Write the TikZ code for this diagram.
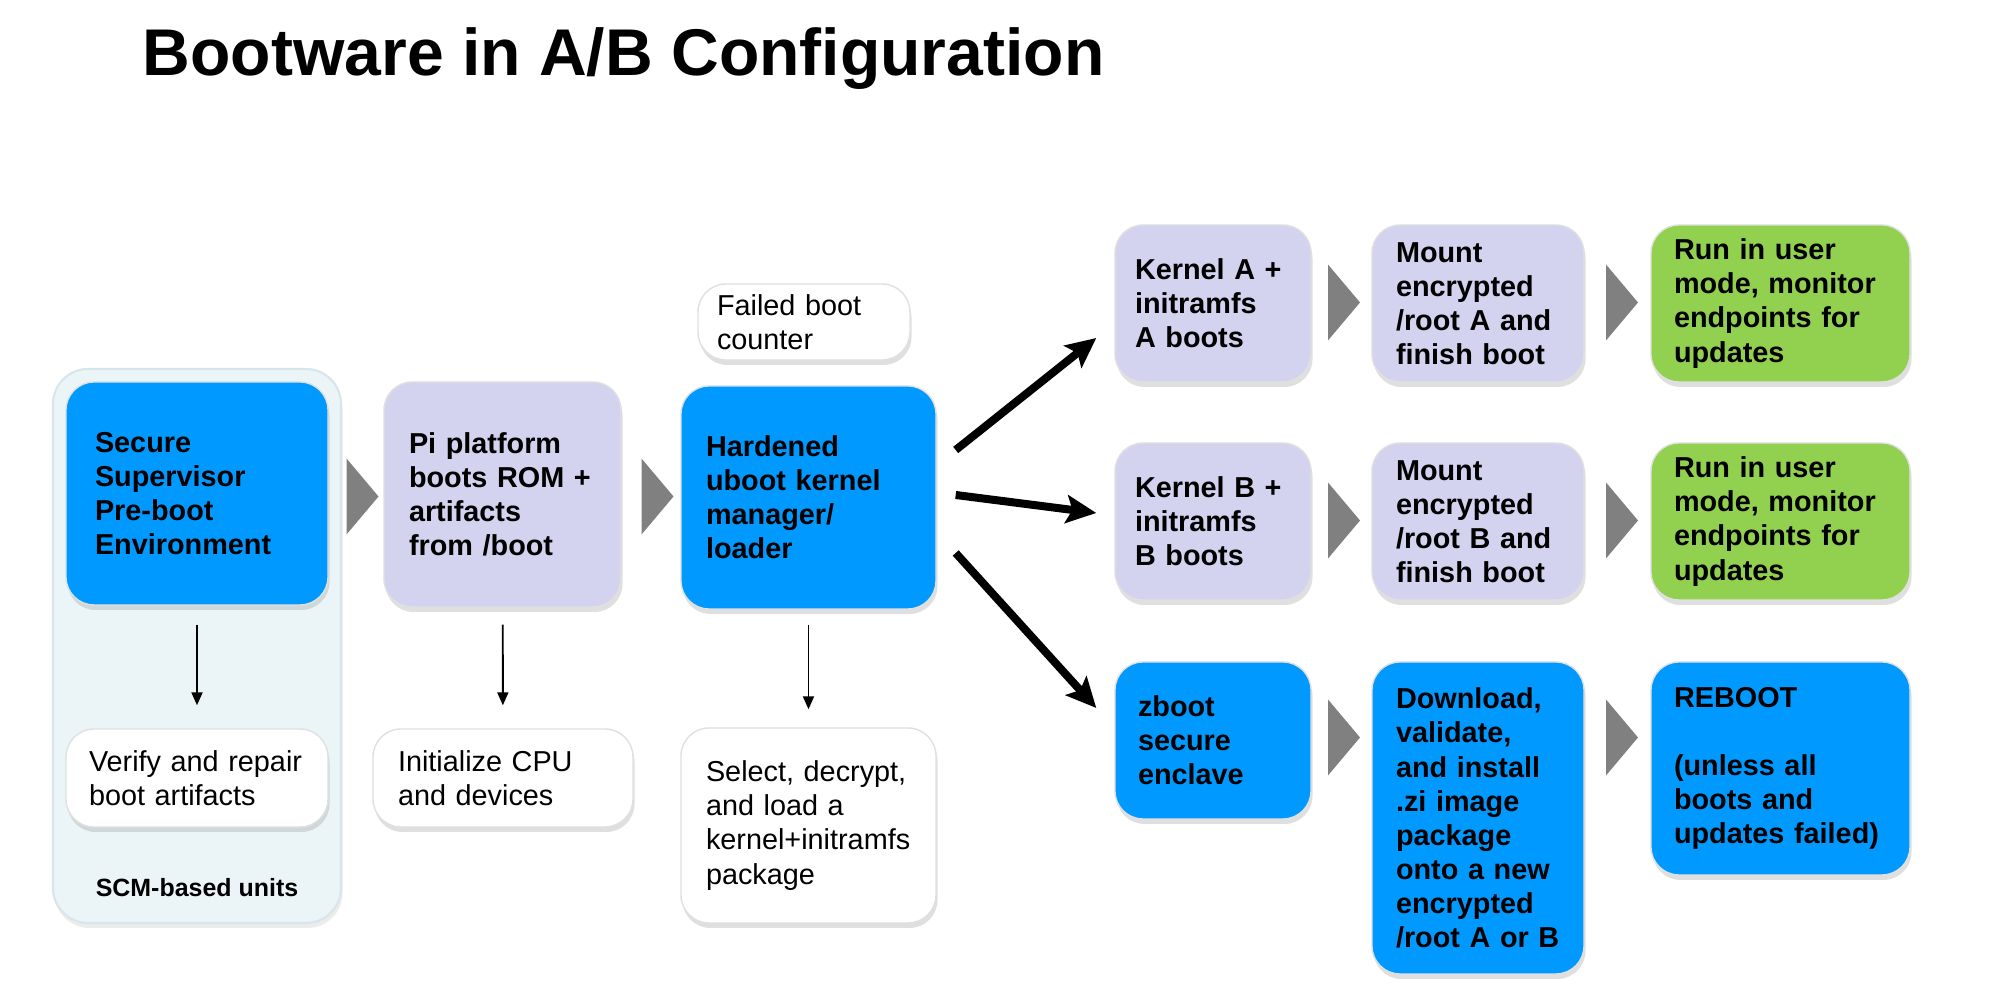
\documentclass[tikz,border=0pt]{standalone}
\usepackage{fontspec}
\setmainfont{Liberation Sans}
\usetikzlibrary{positioning,arrows.meta,shadows,calc}

\definecolor{bootblue}{HTML}{0099FF}
\definecolor{bootlav}{HTML}{D3D3F0}
\definecolor{bootgreen}{HTML}{92D050}
\definecolor{panelbg}{HTML}{EBF5F7}
\definecolor{panelline}{HTML}{D6E6EA}
\definecolor{chevgray}{HTML}{808080}

\tikzset{
  stagebox/.style={rounded corners=0.28cm, draw=black!12, line width=0.4pt,
    align=left, inner xsep=0pt, inner ysep=0pt,
    font=\fontsize{8.2}{9.7}\selectfont\bfseries,
    drop shadow={shadow xshift=0.15mm, shadow yshift=-0.5mm, opacity=0.25}},
  boxdim/.style n args={3}{minimum width=#1cm, minimum height=#2cm, text width=#3cm},
  bluebox/.style={stagebox, fill=bootblue},
  lavbox/.style={stagebox, fill=bootlav},
  greenbox/.style={stagebox, fill=bootgreen},
  notebox/.style={stagebox, fill=white, font=\fontsize{8.2}{9.7}\selectfont},
  panel/.style={rounded corners=0.35cm, fill=panelbg, draw=panelline, line width=0.6pt,
    drop shadow={shadow xshift=0.15mm, shadow yshift=-0.5mm, opacity=0.15}},
  chev/.style={fill=chevgray},
  thinarrow/.style={-{Triangle[length=1.3mm,width=1.1mm]}, line width=0.55pt},
  bigarrow/.style={-{Stealth[length=3mm,width=2.8mm,inset=0.6mm]}, line width=0.8mm},
}

\begin{document}
\begin{tikzpicture}
    \useasboundingbox (0,0) rectangle (19.96,-9.97);
    \fill[white] (0,0) rectangle (19.96,-9.97);

    \node[anchor=base west, inner sep=0pt, font=\fontsize{18.8}{22}\selectfont\bfseries]
        (title) at (1.42,-0.76) {Bootware in A/B Configuration};

    % SCM panel on the left
    \node[panel, minimum width=2.88cm, minimum height=5.54cm] (scm) at (1.97,-6.46) {};
    \node[font=\fontsize{7.1}{8.5}\selectfont\bfseries] (scmlabel) at (1.97,-8.88) {SCM-based units};

    % main boot chain
    \node[bluebox, boxdim={2.62}{2.23}{2.04}] (secure) at (1.97,-4.935)
        {Secure\\Supervisor\\Pre-boot\\Environment};
    \node[notebox, boxdim={2.62}{0.98}{2.16}] (verify) at (1.97,-7.78)
        {Verify and repair\\boot artifacts};
    \node[lavbox, boxdim={2.37}{2.25}{1.87}] (pi) at (5.025,-4.945)
        {Pi platform\\boots ROM +\\artifacts\\from /boot};
    \node[notebox, boxdim={2.60}{0.98}{2.10}] (init) at (5.03,-7.78)
        {Initialize CPU\\and devices};
    \node[bluebox, boxdim={2.55}{2.23}{2.05}] (hard) at (8.085,-4.975)
        {Hardened\\uboot kernel\\manager/\\loader};
    \node[notebox, boxdim={2.12}{0.76}{1.74}] (fail) at (8.04,-3.22)
        {Failed boot\\counter};
    \node[notebox, boxdim={2.55}{1.95}{2.05}] (select) at (8.085,-8.255)
        {Select, decrypt,\\and load a\\kernel+initramfs\\package};

    % slot A
    \node[lavbox, boxdim={1.96}{1.57}{1.56}] (kA) at (12.13,-3.035)
        {Kernel A +\\initramfs\\A boots};
    \node[lavbox, boxdim={2.12}{1.57}{1.64}] (mA) at (14.78,-3.035)
        {Mount\\encrypted\\/root A and\\finish boot};
    \node[greenbox, boxdim={2.59}{1.57}{2.13}] (rA) at (17.805,-3.035)
        {Run in user\\mode, monitor\\endpoints for\\updates};

    % slot B
    \node[lavbox, boxdim={1.96}{1.57}{1.56}] (kB) at (12.13,-5.215)
        {Kernel B +\\initramfs\\B boots};
    \node[lavbox, boxdim={2.12}{1.57}{1.64}] (mB) at (14.78,-5.215)
        {Mount\\encrypted\\/root B and\\finish boot};
    \node[greenbox, boxdim={2.59}{1.57}{2.13}] (rB) at (17.805,-5.215)
        {Run in user\\mode, monitor\\endpoints for\\updates};

    % recovery
    \node[bluebox, boxdim={1.96}{1.57}{1.50}] (zb) at (12.13,-7.405)
        {zboot\\secure\\enclave};
    \node[bluebox, boxdim={2.12}{3.12}{1.64}] (dl) at (14.78,-8.18)
        {Download,\\validate,\\and install\\.zi image\\package\\onto a new\\encrypted\\/root A or B};
    \node[bluebox, boxdim={2.59}{2.13}{2.13}] (rb) at (17.805,-7.685)
        {REBOOT\\[9.7pt](unless all\\boots and\\updates failed)};

    % chevrons between stages
    \foreach \cx/\cy in {3.625/-4.965, 6.575/-4.965,
                         13.44/-3.025, 16.22/-3.025,
                         13.44/-5.205, 16.22/-5.205,
                         13.44/-7.375, 16.22/-7.375}
        \fill[chev] (\cx-0.16,\cy+0.38) -- (\cx+0.16,\cy) -- (\cx-0.16,\cy-0.38) -- cycle;

    \path[thinarrow, shorten <=0.19cm, shorten >=0.23cm] (secure) edge (verify);
    \path[thinarrow, shorten <=0.17cm, shorten >=0.23cm] (pi) edge (init);
    \path[thinarrow, shorten <=0.15cm, shorten >=0.18cm] (hard) edge (select);

    \path[bigarrow] ([shift={(0.19,0.475)}]hard.east) edge ([shift={(-0.18,-0.345)}]kA.west);
    \path[bigarrow] ([shift={(0.19,0.025)}]hard.east) edge ([shift={(-0.18,0.085)}]kB.west);
    \path[bigarrow] ([shift={(0.19,-0.555)}]hard.east) edge ([shift={(-0.18,0.325)}]zb.west);
\end{tikzpicture}
\end{document}
